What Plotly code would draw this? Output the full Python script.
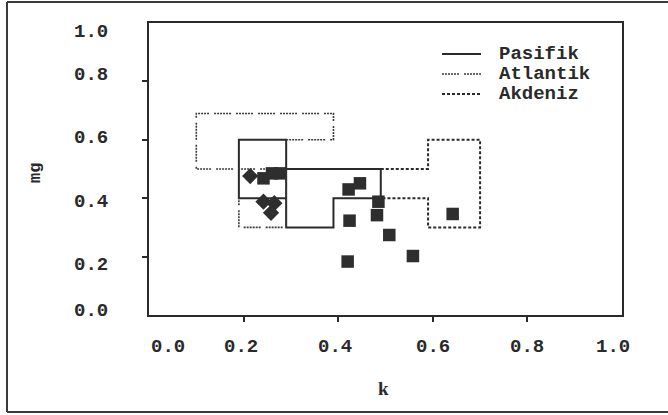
import plotly.graph_objects as go

# ---------------- data ----------------
series_names = ["Pasifik", "Atlantik", "Akdeniz"]

pasifik_k = [0.29, 0.19, 0.19, 0.29, 0.29, 0.39, 0.39, 0.49, 0.49, 0.29]
pasifik_mg = [0.40, 0.40, 0.60, 0.60, 0.30, 0.30, 0.40, 0.40, 0.50, 0.50]

atlantik_k = [0.29, 0.39, 0.39, 0.10, 0.10, 0.29, 0.29, 0.19, 0.19]
atlantik_mg = [0.60, 0.60, 0.69, 0.69, 0.50, 0.50, 0.30, 0.30, 0.40]

akdeniz_k = [0.49, 0.59, 0.59, 0.70, 0.70, 0.59, 0.59, 0.49]
akdeniz_mg = [0.50, 0.50, 0.60, 0.60, 0.30, 0.30, 0.40, 0.40]

square_k = [0.242, 0.260, 0.277, 0.422, 0.446, 0.485, 0.482, 0.424, 0.508, 0.558, 0.420, 0.642]
square_mg = [0.468, 0.485, 0.485, 0.430, 0.451, 0.388, 0.342, 0.323, 0.274, 0.202, 0.183, 0.346]

diamond_k = [0.214, 0.242, 0.265, 0.258]
diamond_mg = [0.476, 0.388, 0.383, 0.350]

x_ticks = [0.0, 0.2, 0.4, 0.6, 0.8, 1.0]
x_tick_labels = ["0.0", "0.2", "0.4", "0.6", "0.8", "1.0"]
y_ticks = [0.0, 0.2, 0.4, 0.6, 0.8, 1.0]
y_tick_labels = ["0.0", "0.2", "0.4", "0.6", "0.8", "1.0"]

x_title = "k"
y_title = "mg"

# ---------------- style ----------------
W, H = 668, 415
ML, MR, MT, MB = 149, 46, 23, 100
PW, PH = W - ML - MR, H - MT - MB
INK = "#2a2a2a"
MONO = "Liberation Mono"

line_styles = [
    dict(color=INK, width=2, dash="solid"),
    dict(color="#3a3a3a", width=1.6,
         dash="2px,1px,2px,1px,2px,1px,2px,1px,2px,1px,2px,5px"),
    dict(color=INK, width=2, dash="3px,2px"),
]

x_label_shift = [19, -3, -3, 0, 0, -9]
y_label_shift = [4, -8, -4, 2, 6, -9]


def px2x(px):
    return (px - ML) / PW


def px2y(py):
    return (H - MB - py) / PH


fig = go.Figure()

for name, kx, my, st in zip(series_names,
                            [pasifik_k, atlantik_k, akdeniz_k],
                            [pasifik_mg, atlantik_mg, akdeniz_mg],
                            line_styles):
    fig.add_trace(go.Scatter(x=kx, y=my, mode="lines", name=name,
                             line=st, showlegend=False, hoverinfo="skip"))

fig.add_trace(go.Scatter(
    x=square_k, y=square_mg, mode="markers", showlegend=False,
    marker=dict(symbol="square", size=12.5, color="#2e2e2e",
                line=dict(width=0))))
fig.add_trace(go.Scatter(
    x=diamond_k, y=diamond_mg, mode="markers", showlegend=False,
    marker=dict(symbol="diamond", size=12.5, color="#2e2e2e",
                line=dict(width=0))))

axis_common = dict(
    showgrid=False, zeroline=False, showline=True, mirror=True,
    linecolor=INK, linewidth=1.5, ticks="outside", ticklen=5,
    tickwidth=1.5, tickcolor=INK, showticklabels=False,
    tickvals=[0.2, 0.4, 0.6, 0.8], range=[0, 1], fixedrange=True)

fig.update_layout(
    width=W, height=H, autosize=False,
    margin=dict(l=ML, r=MR, t=MT, b=MB, pad=0),
    paper_bgcolor="white", plot_bgcolor="white",
    xaxis=axis_common, yaxis=axis_common,
    showlegend=False,
)

tick_font = dict(family=MONO, size=19, color=INK, weight="bold")
annotations = []
for v, t, s in zip(x_ticks, x_tick_labels, x_label_shift):
    annotations.append(dict(
        x=v, y=0, xref="x", yref="paper", text=t, showarrow=False,
        xanchor="center", yanchor="middle", xshift=s, yshift=-32,
        font=tick_font))
for v, t, s in zip(y_ticks, y_tick_labels, y_label_shift):
    annotations.append(dict(
        x=0, y=v, xref="paper", yref="y", text=t, showarrow=False,
        xanchor="center", yanchor="middle", xshift=-58, yshift=s,
        font=tick_font))
annotations.append(dict(
    x=px2x(383), y=px2y(388), xref="paper", yref="paper", text=x_title,
    showarrow=False, xanchor="center", yanchor="middle",
    font=dict(family="Liberation Serif", size=19, color=INK, weight="bold")))
annotations.append(dict(
    x=px2x(35), y=px2y(173), xref="paper", yref="paper", text=y_title,
    showarrow=False, xanchor="center", yanchor="middle", textangle=-90,
    font=dict(family=MONO, size=17, color=INK, weight="bold")))

# legend drawn in the upper right of the plot
legend_rows_px = [54, 74, 94]
shapes = []
for name, st, ry in zip(series_names, line_styles, legend_rows_px):
    shapes.append(dict(type="line", xref="paper", yref="paper",
                       x0=px2x(442), x1=px2x(481), y0=px2y(ry), y1=px2y(ry),
                       line=st))
    annotations.append(dict(
        x=px2x(497), y=px2y(ry), xref="paper", yref="paper", text=name,
        showarrow=False, xanchor="left", yanchor="middle",
        font=dict(family=MONO, size=19, color=INK, weight="bold")))

fig.update_layout(annotations=annotations)

# outer frame of the figure (left, top, bottom edges)
frame = dict(type="line", xref="paper", yref="paper",
             line=dict(color="#3a3a3a", width=2))
shapes += [
    dict(frame, x0=px2x(7), x1=px2x(7), y0=px2y(2), y1=px2y(412)),
    dict(frame, x0=px2x(7), x1=px2x(668), y0=px2y(2), y1=px2y(2)),
    dict(frame, x0=px2x(7), x1=px2x(668), y0=px2y(412), y1=px2y(412)),
]
fig.update_layout(shapes=shapes)

fig.write_html("out.html")
